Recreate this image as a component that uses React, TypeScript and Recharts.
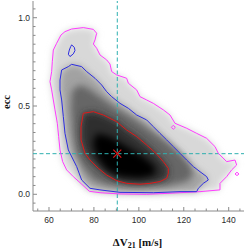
import React from 'react';
import { ScatterChart, Scatter, XAxis, YAxis } from 'recharts';

type P = [number, number];

const xDomain: [number, number] = [52.88, 146.81];
const yDomain: [number, number] = [-0.0946, 1.0946];

const xTicks = [55, 60, 65, 70, 75, 80, 85, 90, 95, 100, 105, 110, 115, 120, 125, 130, 135, 140, 145];
const xMajorTicks = [60, 80, 100, 120, 140];
const yTicks = [-0.05, 0, 0.05, 0.1, 0.15, 0.2, 0.25, 0.3, 0.35, 0.4, 0.45, 0.5, 0.55, 0.6, 0.65, 0.7, 0.75, 0.8, 0.85, 0.9, 0.95, 1.0, 1.05];
const yMajorTicks = [0, 0.5, 1.0];

const bestDV = 90.4;
const bestEcc = 0.23;

// contour lines (ΔV21, ecc)
const magentaContour: P[] = [
  [65.34, 0.902], [67.12, 0.921], [70.09, 0.936], [75.28, 0.944], [79.74, 0.934], [81.22, 0.912],
  [80.48, 0.874], [79.74, 0.851], [81.22, 0.827], [82.7, 0.789], [85.67, 0.761], [87.15, 0.738],
  [87.9, 0.695], [90.12, 0.676], [94.57, 0.657], [95.32, 0.629], [99.03, 0.591], [100.51, 0.553],
  [103.48, 0.534], [106.45, 0.515], [110.9, 0.478], [113.87, 0.449], [116.09, 0.402], [121.28, 0.374],
  [125.74, 0.345], [130.19, 0.317], [133.9, 0.27], [135.38, 0.232], [139.09, 0.185], [142.8, 0.194],
  [143.54, 0.166], [141.32, 0.138], [139.09, 0.1], [136.12, 0.062], [136.12, 0.025], [127.22, 0.015],
  [113.87, 0.006], [103.48, 0.0], [91.61, 0.002], [82.7, 0.009], [77.95, 0.017], [76.03, 0.04],
  [73.8, 0.066], [70.83, 0.1], [67.86, 0.138], [66.08, 0.185], [64.9, 0.251], [64.3, 0.327],
  [63.71, 0.402], [62.67, 0.478], [61.93, 0.534], [61.19, 0.591], [60.45, 0.638], [61.19, 0.695],
  [61.48, 0.751], [61.93, 0.817], [63.41, 0.855],
];
const magentaIslandA: P[] = [[114.46, 0.379], [115.35, 0.391], [116.24, 0.379], [115.35, 0.368]];
const magentaIslandB: P[] = [[142.8, 0.115], [143.69, 0.125], [144.58, 0.115], [143.69, 0.106]];

const blueContour: P[] = [
  [65.64, 0.704], [68.61, 0.723], [70.09, 0.736], [74.54, 0.723], [76.77, 0.695], [80.48, 0.657],
  [83.45, 0.619], [85.67, 0.581], [87.9, 0.553], [91.61, 0.515], [95.32, 0.487], [99.03, 0.449],
  [103.48, 0.421], [106.45, 0.383], [109.41, 0.345], [112.38, 0.308], [115.35, 0.27], [118.32, 0.232],
  [121.28, 0.194], [124.25, 0.157], [127.22, 0.128], [130.19, 0.1], [130.93, 0.081], [128.71, 0.062],
  [126.48, 0.034], [125.74, 0.015], [118.32, 0.015], [106.45, 0.009], [91.61, 0.011], [82.7, 0.025],
  [78.25, 0.034], [74.54, 0.081], [72.32, 0.157], [68.61, 0.251], [67.12, 0.345], [66.38, 0.44],
  [65.64, 0.534], [64.9, 0.591], [64.9, 0.647],
];
const blueIsland: P[] = [
  [70.09, 0.846], [71.28, 0.832], [71.57, 0.814], [70.83, 0.795], [69.35, 0.78], [68.61, 0.793],
  [69.05, 0.817], [69.65, 0.836],
];

const redContour: P[] = [
  [75.28, 0.459], [79.74, 0.468], [84.19, 0.449], [90.12, 0.411], [94.57, 0.364], [99.03, 0.327],
  [103.48, 0.279], [107.93, 0.228], [110.9, 0.185], [113.12, 0.147], [113.12, 0.119], [112.38, 0.091],
  [109.41, 0.072], [104.96, 0.062], [100.51, 0.057], [94.57, 0.062], [90.12, 0.077], [85.67, 0.109],
  [81.96, 0.147], [78.25, 0.194], [76.03, 0.232], [74.25, 0.308], [74.25, 0.383],
];

// grey density levels between the contours
const midDensity: P[] = [
  [70.09, 0.581], [73.06, 0.619], [76.77, 0.606], [82.7, 0.553], [90.12, 0.487], [97.54, 0.43],
  [104.96, 0.364], [112.38, 0.298], [118.32, 0.232], [122.77, 0.166], [124.25, 0.109], [121.28, 0.072],
  [112.38, 0.047], [97.54, 0.04], [85.67, 0.053], [79.74, 0.081], [75.28, 0.147], [72.02, 0.232],
  [70.54, 0.345], [69.79, 0.478],
];
const coreDensity: P[] = [
  [81.22, 0.345], [87.15, 0.327], [94.57, 0.27], [101.99, 0.213], [107.19, 0.157], [107.19, 0.109],
  [100.51, 0.091], [91.61, 0.1], [85.67, 0.138], [81.22, 0.213], [79.44, 0.289],
];

const crossVertical: P[] = [[bestDV, yDomain[0]], [bestDV, yDomain[1]]];
const crossHorizontal: P[] = [[xDomain[0], bestEcc], [xDomain[1], bestEcc]];

const AXIS = '#8a8a8a';
const TXT = '#2a2a2a';
const TEAL = '#2fb0b0';
const SANS = '"Liberation Sans", Arial, Helvetica, sans-serif';
const SERIF = '"Liberation Serif", "Times New Roman", serif';

const closed = (pts: P[]) => [...pts, pts[0]].map(([x, y]) => ({ x, y }));
const open = (pts: P[]) => pts.map(([x, y]) => ({ x, y }));

const toD = (pts: { x: number; y: number }[], close: boolean) =>
  pts.map((p, i) => `${i ? 'L' : 'M'}${p.x},${p.y}`).join('') + (close ? 'Z' : '');

function PolyFill(props: any) {
  const pts = props.points || [];
  if (!pts.length) return null;
  return <path d={toD(pts, true)} fill={props.tone} stroke="none" filter="url(#densityBlur)" />;
}

function PolyLine(props: any) {
  const pts = props.points || [];
  if (!pts.length) return null;
  return (
    <path
      d={toD(pts, false)}
      fill="none"
      stroke={props.hue}
      strokeWidth={props.w || 1}
      strokeDasharray={props.dash}
      strokeLinejoin="round"
    />
  );
}

const NoDot = () => <g />;

const CrossMark = (p: any) => (
  <g stroke="#e01818" strokeWidth={1.1}>
    <line x1={p.cx - 4} y1={p.cy - 4} x2={p.cx + 4} y2={p.cy + 4} />
    <line x1={p.cx - 4} y1={p.cy + 4} x2={p.cx + 4} y2={p.cy - 4} />
  </g>
);

const isMajor = (v: number, list: number[]) => list.some((m) => Math.abs(m - v) < 1e-6);

const BottomTick = (props: any) => {
  const { x, y, payload } = props;
  const major = isMajor(payload.value, xMajorTicks);
  return (
    <g>
      <line x1={x} x2={x} y1={y} y2={y - (major ? 4 : 2.5)} stroke={AXIS} />
      {major && (
        <text x={x} y={y + 11.5} textAnchor="middle" fontSize={8.5} fill={TXT} fontFamily={SANS}>
          {payload.value}
        </text>
      )}
    </g>
  );
};

const TopTick = (props: any) => {
  const { x, y, payload } = props;
  const major = isMajor(payload.value, xMajorTicks);
  return <line x1={x} x2={x} y1={y} y2={y + (major ? 4 : 2.5)} stroke={AXIS} />;
};

const LeftTick = (props: any) => {
  const { x, y, payload } = props;
  const major = isMajor(payload.value, yMajorTicks);
  return (
    <g>
      <line x1={x} x2={x + (major ? 4 : 2.5)} y1={y} y2={y} stroke={AXIS} />
      {major && (
        <text x={x - 3} y={y + 3} textAnchor="end" fontSize={8.5} fill={TXT} fontFamily={SANS}>
          {payload.value.toFixed(1)}
        </text>
      )}
    </g>
  );
};

const RightTick = (props: any) => {
  const { x, y, payload } = props;
  const major = isMajor(payload.value, yMajorTicks);
  return <line x1={x} x2={x - (major ? 4 : 2.5)} y1={y} y2={y} stroke={AXIS} />;
};

const XTitle = (p: any) => {
  const vb = p.viewBox || { x: 33, y: 211, width: 211, height: 38 };
  return (
    <text
      x={vb.x + vb.width / 2 - 1}
      y={vb.y + 34.5}
      textAnchor="middle"
      fontFamily={SERIF}
      fontWeight="bold"
      fontSize={11}
      fill="#111"
    >
      ΔV
      <tspan fontSize={8} dy={2.5}>21</tspan>
      <tspan dy={-2.5}> [m/s]</tspan>
    </text>
  );
};

const YTitle = (p: any) => {
  const vb = p.viewBox || { x: 0, y: 1, width: 33, height: 210 };
  const cx = vb.x + 9.5;
  const cy = vb.y + vb.height / 2 - 4;
  return (
    <text
      x={cx}
      y={cy}
      transform={`rotate(-90 ${cx} ${cy})`}
      textAnchor="middle"
      fontFamily={SERIF}
      fontWeight="bold"
      fontSize={10.5}
      fill="#111"
    >
      ecc
    </text>
  );
};

export default function App() {
  return (
    <div style={{ position: 'relative', width: 245, height: 249, background: '#fff' }}>
      <style>{'body{margin:0;background:#fff}'}</style>
      <svg width={0} height={0} style={{ position: 'absolute' }}>
        <defs>
          <filter id="densityBlur" x="-50%" y="-50%" width="200%" height="200%">
            <feGaussianBlur stdDeviation={3.5} />
          </filter>
        </defs>
      </svg>
      <ScatterChart width={245} height={249} margin={{ top: 1, right: 1, bottom: 0, left: 0 }}>
        <XAxis
          xAxisId={0}
          dataKey="x"
          type="number"
          domain={xDomain}
          ticks={xTicks}
          interval={0}
          tickSize={0}
          tickMargin={0}
          tickLine={false}
          axisLine={{ stroke: AXIS }}
          tick={BottomTick}
          height={38}
          label={XTitle}
        />
        <XAxis
          xAxisId="top"
          orientation="top"
          dataKey="x"
          type="number"
          domain={xDomain}
          ticks={xTicks}
          interval={0}
          tickSize={0}
          tickMargin={0}
          tickLine={false}
          axisLine={{ stroke: AXIS }}
          tick={TopTick}
          height={0}
        />
        <YAxis
          yAxisId={0}
          dataKey="y"
          type="number"
          domain={yDomain}
          ticks={yTicks}
          interval={0}
          tickSize={0}
          tickMargin={0}
          tickLine={false}
          axisLine={{ stroke: AXIS }}
          tick={LeftTick}
          width={33}
          label={YTitle}
        />
        <YAxis
          yAxisId="right"
          orientation="right"
          dataKey="y"
          type="number"
          domain={yDomain}
          ticks={yTicks}
          interval={0}
          tickSize={0}
          tickMargin={0}
          tickLine={false}
          axisLine={{ stroke: AXIS }}
          tick={RightTick}
          width={0}
        />

        <Scatter data={closed(magentaContour)} line={<PolyFill tone="#d8d8d8" />} shape={NoDot} isAnimationActive={false} />
        <Scatter data={closed(blueContour)} line={<PolyFill tone="#a2a2a2" />} shape={NoDot} isAnimationActive={false} />
        <Scatter data={closed(midDensity)} line={<PolyFill tone="#666666" />} shape={NoDot} isAnimationActive={false} />
        <Scatter data={closed(redContour)} line={<PolyFill tone="#2e2e2e" />} shape={NoDot} isAnimationActive={false} />
        <Scatter data={closed(coreDensity)} line={<PolyFill tone="#060606" />} shape={NoDot} isAnimationActive={false} />

        <Scatter data={open(crossVertical)} line={<PolyLine hue={TEAL} dash="4 2.5" />} shape={NoDot} isAnimationActive={false} />
        <Scatter data={open(crossHorizontal)} line={<PolyLine hue={TEAL} dash="4 2.5" />} shape={NoDot} isAnimationActive={false} />

        <Scatter data={closed(magentaContour)} line={<PolyLine hue="#ff3cff" />} shape={NoDot} isAnimationActive={false} />
        <Scatter data={closed(magentaIslandA)} line={<PolyLine hue="#ff3cff" />} shape={NoDot} isAnimationActive={false} />
        <Scatter data={closed(magentaIslandB)} line={<PolyLine hue="#ff3cff" />} shape={NoDot} isAnimationActive={false} />
        <Scatter data={closed(blueContour)} line={<PolyLine hue="#2d2de0" />} shape={NoDot} isAnimationActive={false} />
        <Scatter data={closed(blueIsland)} line={<PolyLine hue="#2d2de0" />} shape={NoDot} isAnimationActive={false} />
        <Scatter data={closed(redContour)} line={<PolyLine hue="#e01818" />} shape={NoDot} isAnimationActive={false} />

        <Scatter data={[{ x: bestDV, y: bestEcc }]} shape={CrossMark} isAnimationActive={false} />
      </ScatterChart>
    </div>
  );
}
